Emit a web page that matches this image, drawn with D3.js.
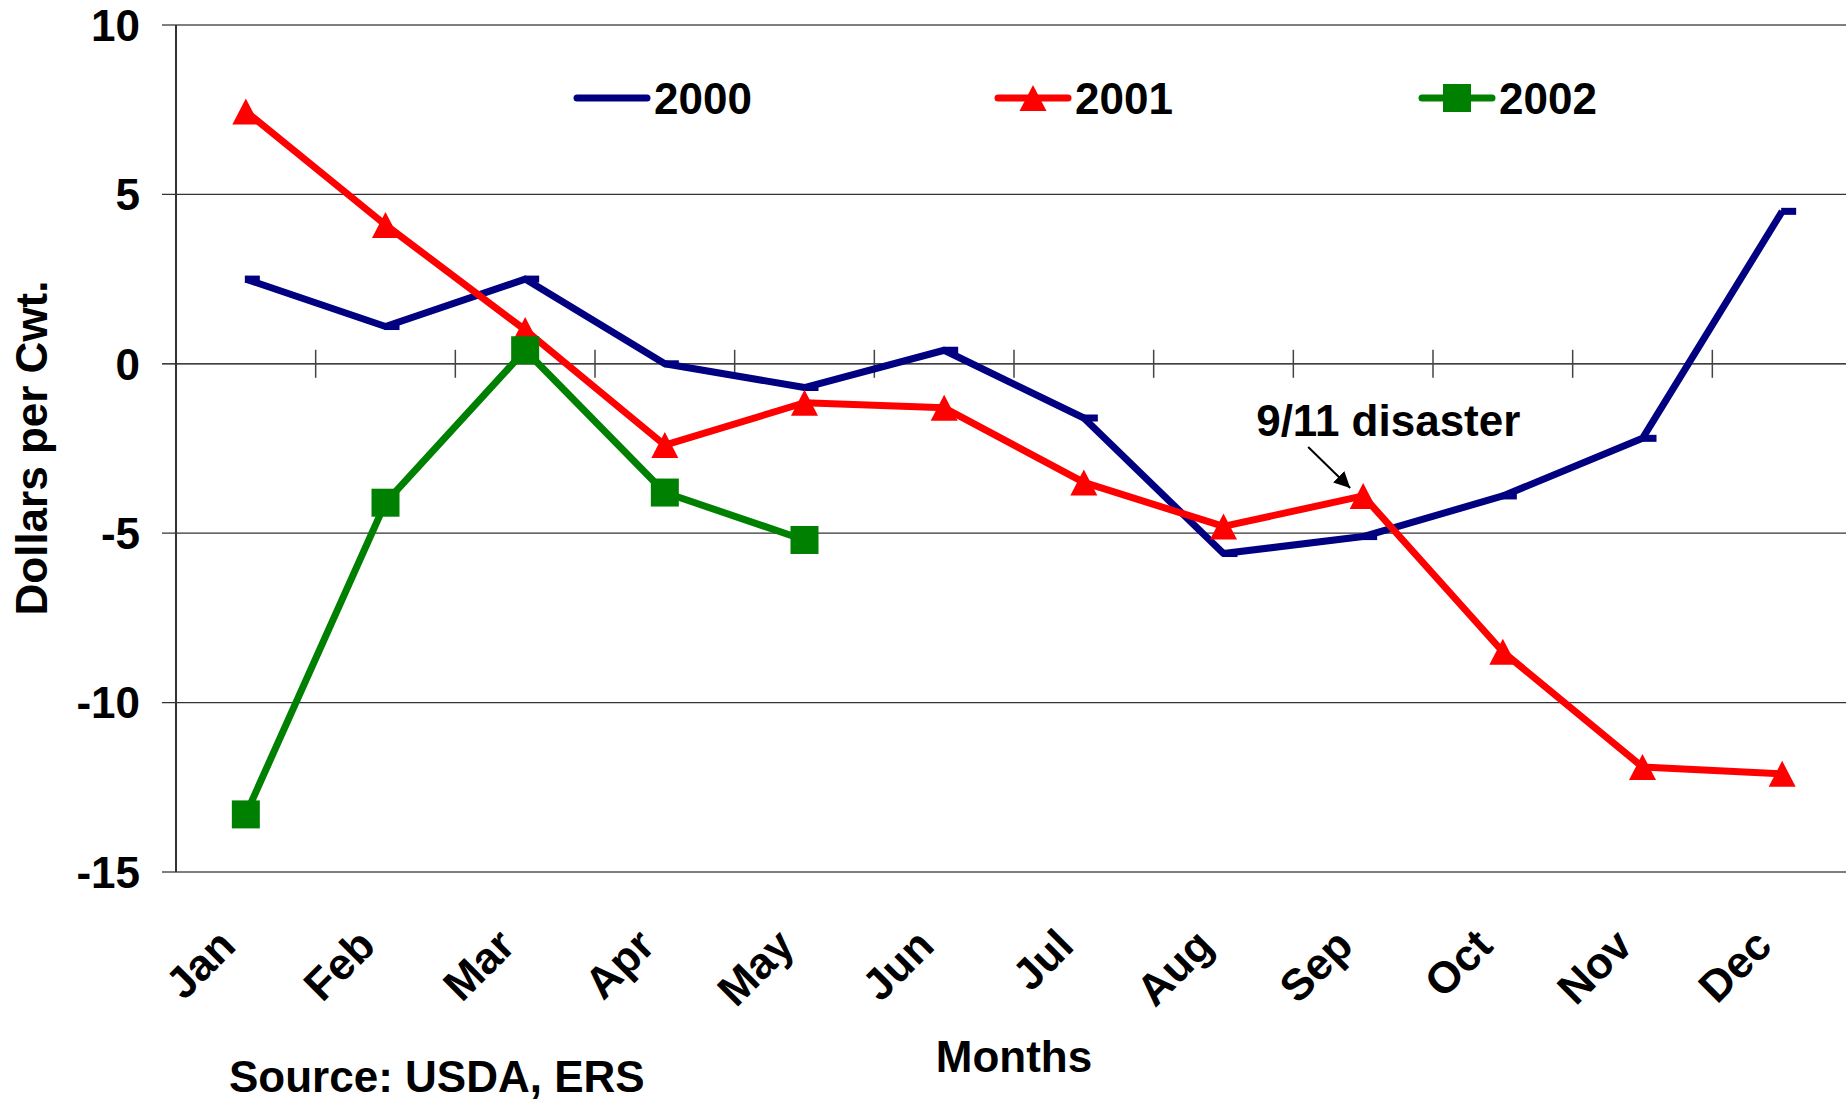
<!DOCTYPE html>
<html>
<head>
<meta charset="utf-8">
<script src="https://cdn.jsdelivr.net/npm/d3@7"></script>
<style>
  body { margin: 0; background: #fff; }
  text { font-family: "Liberation Sans", Arial, sans-serif; font-weight: bold; fill: #000; }
</style>
</head>
<body>
<script>
const MONTHS = ["Jan", "Feb", "Mar", "Apr", "May", "Jun", "Jul", "Aug", "Sep", "Oct", "Nov", "Dec"]
const Y_TICKS = [10, 5, 0, -5, -10, -15]

const V2000 = [2.5, 1.1, 2.5, 0, -0.7, 0.4, -1.6, -5.6, -5.1, -3.9, -2.2, 4.5]
const V2001 = [7.45, 4.1, 1.0, -2.4, -1.15, -1.3, -3.5, -4.8, -3.9, -8.5, -11.9, -12.1]
const V2002 = [-13.3, -4.1, 0.4, -3.8, -5.2]

const SERIES = [
  { name: "2000", values: V2000, color: "#000080", marker: "dash" },
  { name: "2001", values: V2001, color: "#ff0000", marker: "triangle" },
  { name: "2002", values: V2002, color: "#008000", marker: "square" }
]

const m = { width: 1846, height: 1102 }
const FS = "44px"

const svg = d3.select("body").append("svg")
    .attr("width", m.width)
    .attr("height", m.height)

const x = d3.scaleBand()
    .domain(MONTHS)
    .range([176, 1852])
    .padding(0)

const y = d3.scaleLinear()
    .domain([-15, 10])
    .range([872, 25])

const cx = d => x(d) + x.bandwidth() / 2

// gridlines
svg.append("g").selectAll("line")
  .data(Y_TICKS)
  .enter()
  .append("line")
    .attr("x1", 162)
    .attr("x2", m.width)
    .attr("y1", d => y(d))
    .attr("y2", d => y(d))
    .attr("stroke", d => (d == 10 || d == -15) ? "#7f7f7f" : (d == 0 ? "#000" : "#333"))
    .attr("stroke-width", d => (d == 10 || d == -15) ? 2 : 1.3)

// y axis line
svg.append("line")
    .attr("x1", 176).attr("x2", 176)
    .attr("y1", y(10)).attr("y2", y(-15))
    .attr("stroke", "#333")
    .attr("stroke-width", 2)

// category ticks on the zero line
svg.append("g").selectAll("line")
  .data(MONTHS.slice(1))
  .enter()
  .append("line")
    .attr("x1", d => x(d))
    .attr("x2", d => x(d))
    .attr("y1", y(0) - 14)
    .attr("y2", y(0) + 14)
    .attr("stroke", "#444")
    .attr("stroke-width", 1.5)

// y tick labels
svg.append("g").selectAll("text")
  .data(Y_TICKS)
  .enter()
  .append("text")
    .attr("x", 140)
    .attr("y", d => y(d))
    .attr("dy", "0.36em")
    .attr("text-anchor", "end")
    .style("font-size", FS)
    .text(d => d)

// month labels
svg.append("g").selectAll("text")
  .data(MONTHS)
  .enter()
  .append("text")
    .attr("transform", d => "translate(" + (cx(d) - 8) + ",948) rotate(-45)")
    .attr("text-anchor", "end")
    .style("font-size", FS)
    .text(d => d)

// axis titles
svg.append("text")
    .attr("transform", "translate(47,448) rotate(-90)")
    .attr("text-anchor", "middle")
    .style("font-size", FS)
    .text("Dollars per Cwt.")

svg.append("text")
    .attr("x", 1014)
    .attr("y", 1072)
    .attr("text-anchor", "middle")
    .style("font-size", FS)
    .text("Months")

svg.append("text")
    .attr("x", 229)
    .attr("y", 1092)
    .style("font-size", FS)
    .text("Source: USDA, ERS")

function drawMarker(sel, type, color) {
  if (type == "dash") {
    sel.append("rect")
      .attr("x", -1).attr("y", -3.5)
      .attr("width", 15).attr("height", 7)
      .attr("fill", color)
  } else if (type == "triangle") {
    sel.append("path")
      .attr("d", "M0,-13L13.5,13L-13.5,13Z")
      .attr("fill", color)
  } else {
    sel.append("rect")
      .attr("x", -14).attr("y", -14)
      .attr("width", 28).attr("height", 28)
      .attr("fill", color)
  }
}

const line = d3.line()
    .x((d, i) => cx(MONTHS[i]))
    .y(d => y(d))

SERIES.forEach(function(s) {
  const g = svg.append("g")
  g.append("path")
    .datum(s.values)
    .attr("fill", "none")
    .attr("stroke", s.color)
    .attr("stroke-width", 7)
    .attr("stroke-linejoin", "round")
    .attr("d", line)

  g.selectAll(".pt")
    .data(s.values)
    .enter()
    .append("g")
      .attr("transform", (d, i) => "translate(" + cx(MONTHS[i]) + "," + y(d) + ")")
      .each(function() { drawMarker(d3.select(this), s.marker, s.color) })
})

// legend
const LEGEND_X = [577, 998, 1422]
SERIES.forEach(function(s, i) {
  const lg = svg.append("g").attr("transform", "translate(" + LEGEND_X[i] + ",98)")
  lg.append("line")
    .attr("x1", 0).attr("x2", 70)
    .attr("stroke", s.color)
    .attr("stroke-width", 7)
    .attr("stroke-linecap", "round")
  if (s.marker != "dash") {
    const mk = lg.append("g").attr("transform", "translate(35,0)")
    drawMarker(mk, s.marker, s.color)
  }
  lg.append("text")
    .attr("x", 77)
    .attr("dy", "0.36em")
    .style("font-size", FS)
    .text(s.name)
})

// 9/11 annotation
const sepX = cx("Sep")
const sepY = y(V2001[8])
svg.append("text")
    .attr("x", sepX - 107)
    .attr("y", 436)
    .style("font-size", FS)
    .text("9/11 disaster")

svg.append("defs").append("marker")
    .attr("id", "arrow")
    .attr("viewBox", "0 0 10 10")
    .attr("refX", 10).attr("refY", 5)
    .attr("markerWidth", 8).attr("markerHeight", 8)
    .attr("markerUnits", "strokeWidth")
    .attr("orient", "auto")
  .append("path")
    .attr("d", "M0,0L10,5L0,10Z")
    .attr("fill", "#000")

svg.append("line")
    .attr("x1", sepX - 55).attr("y1", sepY - 49)
    .attr("x2", sepX - 13).attr("y2", sepY - 8)
    .attr("stroke", "#000")
    .attr("stroke-width", 2)
    .attr("marker-end", "url(#arrow)")
</script>
</body>
</html>
